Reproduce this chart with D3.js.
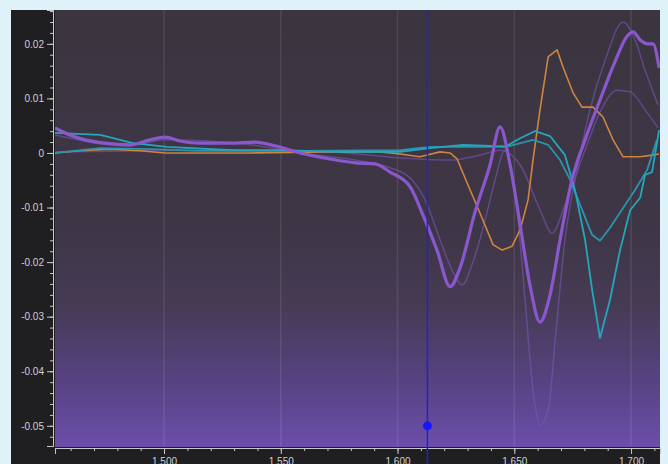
<!DOCTYPE html>
<html><head><meta charset="utf-8">
<script src="https://cdn.jsdelivr.net/npm/d3@7"></script>
<style>html,body{margin:0;padding:0;background:#dff1f9;overflow:hidden}svg{display:block}</style>
</head><body>
<script>
// ---- data ----
const xMajorTicks = [1500, 1550, 1600, 1650, 1700];
const yMajorTicks = [0.02, 0.01, 0, -0.01, -0.02, -0.03, -0.04, -0.05];

const mainX = [1453.3,1459.7,1466.2,1474.7,1485.4,1494.0,1500.4,1506.9,1515.4,1528.3,1539.0,1547.5,1558.2,1571.1,1581.8,1590.4,1596.8,1605.4,1610.9,1616.9,1622.5,1626.8,1633.2,1639.6,1643.9,1648.2,1652.5,1656.7,1661.0,1665.3,1669.6,1674.7,1680.3,1686.7,1693.1,1698.3,1700.9,1703.9,1707.3,1709.4,1712.0];
const mainY = [0.0046,0.0033,0.0024,0.0018,0.0015,0.0024,0.0029,0.0022,0.0018,0.0018,0.002,0.0013,0,-0.0011,-0.0018,-0.002,-0.0035,-0.0062,-0.0114,-0.0178,-0.0245,-0.021,-0.0108,-0.0022,0.0048,-0.0022,-0.0132,-0.0242,-0.031,-0.026,-0.0159,-0.0049,0.0024,0.0097,0.0167,0.0214,0.0222,0.0207,0.020,0.020,0.0156];

const faintAX = [1453.3,1485.4,1500.4,1536.8,1558.2,1581.8,1596.8,1605.4,1611.8,1618.2,1623.3,1627.6,1631.9,1637.5,1641.8,1646.0,1650.3,1654.6,1658.0,1661.0,1664.5,1667.9,1671.7,1676.9,1682.4,1688.9,1696.6,1701.7,1706.0,1711.6];
const faintAY = [0.0033,0.0013,0.0024,0.0015,0,-0.0013,-0.0027,-0.0046,-0.0086,-0.0159,-0.0214,-0.0242,-0.0205,-0.0123,-0.0049,0.0005,-0.0068,-0.0269,-0.0434,-0.0498,-0.0471,-0.0324,-0.0159,-0.0031,0.0079,0.017,0.024,0.0207,0.0152,0.0088];

const faintBX = [1453.3,1494.0,1536.8,1571.1,1601.1,1622.5,1635.3,1643.9,1652.5,1661.0,1666.2,1671.7,1680.3,1686.7,1694.0,1699.6,1706.0,1711.6];
const faintBY = [0.0002,0.0004,0.0005,0.0002,-0.0009,-0.0013,-0.0004,0.0005,-0.0022,-0.0104,-0.0147,-0.0095,0.0005,0.0075,0.0115,0.0112,0.0079,0.0046];

const orangeX = [1453.3,1464.0,1476.9,1489.7,1500.4,1536.8,1571.1,1592.5,1601.1,1609.6,1618.2,1622.5,1625.5,1629.8,1635.3,1640.9,1644.8,1649.0,1652.5,1655.9,1658.0,1661.0,1664.5,1668.3,1670.9,1675.2,1679.0,1683.7,1688.0,1692.3,1696.6,1703.9,1709.0,1712.0];
const orangeY = [0,0.0004,0.0007,0.0004,0,0,0.0002,0.0002,-0.0002,-0.0007,0.0002,0,-0.0011,-0.0055,-0.011,-0.0168,-0.0178,-0.0171,-0.0141,-0.0086,-0.0013,0.0079,0.0176,0.0189,0.0157,0.011,0.0084,0.0084,0.0066,0.0024,-0.0007,-0.0007,-0.0004,-0.0002];

const tealAX = [1453.3,1472.6,1486.7,1501.3,1529.6,1551.0,1572.4,1601.1,1613.9,1628.1,1639.6,1646.0,1652.5,1658.9,1665.3,1671.7,1676.0,1680.3,1683.3,1686.7,1691.0,1695.3,1699.6,1703.9,1706.0,1709.0,1712.0];
const tealAY = [0.0037,0.0033,0.0018,0.0011,0.0005,0.0005,0.0002,0.0002,0.0009,0.0015,0.0013,0.0011,0.0027,0.004,0.0031,-0.0004,-0.0068,-0.0159,-0.025,-0.0339,-0.0269,-0.0178,-0.0105,-0.0082,-0.004,-0.0035,0.0042];

const tealBX = [1453.3,1472.6,1494.0,1515.4,1558.2,1601.1,1613.9,1628.1,1639.6,1648.2,1658.0,1664.5,1669.6,1673.9,1678.2,1683.3,1686.7,1691.0,1696.1,1701.7,1706.9,1711.1];
const tealBY = [0,0.0009,0.0007,0.0004,0.0004,0.0005,0.0011,0.0011,0.0011,0.0013,0.0024,0.0015,-0.0013,-0.0049,-0.0095,-0.015,-0.0161,-0.0137,-0.0104,-0.0068,-0.0031,0.0024];

const cursorX = 1612.8;
const cursorY = -0.05;

// ---- chart ----
const W = 668, H = 464;
const L = 55, R = 660, T = 10, B = 446;
const svg = d3.select("body").append("svg").attr("width", W).attr("height", H);

const x = d3.scaleLinear().domain([1453.3, 1712.4]).range([L, R]);
const y = d3.scaleLinear().domain([-0.0537, 0.0262]).range([B, T]);

const defs = svg.append("defs");
const grad = defs.append("linearGradient").attr("id","bg").attr("x1",0).attr("y1",0).attr("x2",0).attr("y2",1);
[[0,"#3b3540"],[0.5,"#3e3646"],[0.68,"#463b55"],[0.84,"#55427f"],[1,"#6c4eab"]].forEach(s=>grad.append("stop").attr("offset",s[0]).attr("stop-color",s[1]));
defs.append("clipPath").attr("id","clip").append("rect").attr("x",L).attr("y",T).attr("width",R-L).attr("height",B-T+1);

// dark frame
svg.append("rect").attr("x",11).attr("y",10).attr("width",L-11).attr("height",H-10).attr("fill","#1f1f21");
svg.append("rect").attr("x",11).attr("y",B).attr("width",R-11).attr("height",H-B).attr("fill","#1f1f21");
// plot background
svg.append("rect").attr("x",L).attr("y",T).attr("width",R-L).attr("height",B-T+1).attr("fill","url(#bg)");

// vertical grid
svg.append("g").selectAll("line").data(xMajorTicks).join("line")
  .attr("x1",d=>x(d)).attr("x2",d=>x(d)).attr("y1",T).attr("y2",B)
  .attr("stroke","rgba(255,255,255,0.09)").attr("stroke-width",1.5);

// axes
const yMinor = d3.range(-0.052, 0.0261, 0.002).map(v=>+v.toFixed(3));
const xMinor = d3.range(1460, 1712, 10);
const axCol = "#c8c8c8";

const yg = svg.append("g").attr("transform",`translate(${L-2},0)`);
yg.call(d3.axisLeft(y).tickValues(yMinor).tickSize(3).tickFormat(""));
yg.call(g=>g.selectAll(".tick line").attr("stroke",axCol));
const yg2 = svg.append("g").attr("transform",`translate(${L-2},0)`);
yg2.call(d3.axisLeft(y).tickValues(yMajorTicks).tickSize(6).tickPadding(3)
  .tickFormat(d=>d===0?"0":d.toFixed(2)));
[yg,yg2].forEach(g=>{g.select(".domain").attr("stroke",axCol);
  g.selectAll(".tick line").attr("stroke",axCol);
  g.selectAll("text").attr("fill","#d0d0d0").style("font-family","Liberation Sans, Arial, sans-serif").style("font-size","10px");});

const xg = svg.append("g").attr("transform",`translate(0,${B+2})`);
xg.call(d3.axisBottom(x).tickValues(xMinor).tickSize(3).tickFormat(""));
const xg2 = svg.append("g").attr("transform",`translate(0,${B+2})`);
xg2.call(d3.axisBottom(x).tickValues(xMajorTicks).tickSize(6).tickPadding(4).tickFormat(d3.format(",")));
[xg,xg2].forEach(g=>{g.select(".domain").attr("stroke",axCol);
  g.selectAll(".tick line").attr("stroke",axCol);
  g.selectAll("text").attr("fill","#d0d0d0").style("font-family","Liberation Sans, Arial, sans-serif").style("font-size","10px");});

// series
const plot = svg.append("g").attr("clip-path","url(#clip)");
function draw(xs, ys, color, width, opacity, curve){
  const pts = xs.map((v,i)=>[v, ys[i]]);
  plot.append("path").datum(pts)
    .attr("d", d3.line().x(d=>x(d[0])).y(d=>y(d[1])).curve(curve))
    .attr("fill","none").attr("stroke",color).attr("stroke-width",width)
    .attr("stroke-opacity",opacity).attr("stroke-linejoin","round");
}
draw(faintBX, faintBY, "#6e4f9c", 1.5, 0.75, d3.curveMonotoneX);
draw(faintAX, faintAY, "#7a55b4", 1.5, 0.6, d3.curveMonotoneX);
draw(orangeX, orangeY, "#cf8440", 1.6, 1, d3.curveLinear);
draw(tealBX, tealBY, "#2a93ad", 1.8, 1, d3.curveLinear);
draw(tealAX, tealAY, "#25a6bb", 1.8, 1, d3.curveLinear);
draw(mainX, mainY, "#8a58cc", 3.2, 1, d3.curveMonotoneX);

// cursor
svg.append("line").attr("x1",x(cursorX)).attr("x2",x(cursorX)).attr("y1",T).attr("y2",H)
  .attr("stroke","#2222cc").attr("stroke-width",1.5);
svg.append("circle").attr("cx",x(cursorX)).attr("cy",y(cursorY)).attr("r",4.5).attr("fill","#1616ff");
</script>
</body></html>
